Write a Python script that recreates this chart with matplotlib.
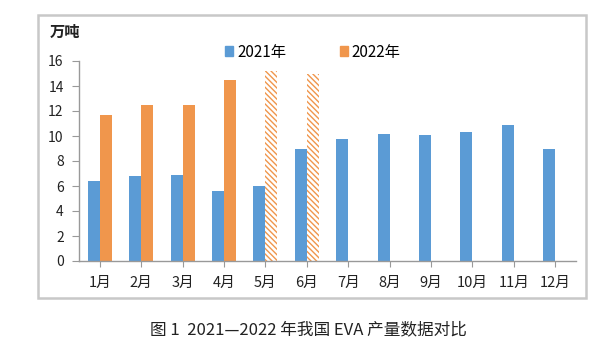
import numpy as np
import matplotlib
matplotlib.use("Agg")
import matplotlib.pyplot as plt
from matplotlib.patches import Rectangle, Patch

plt.rcParams['font.family'] = ['Noto Sans CJK SC', 'DejaVu Sans']
plt.rcParams['hatch.linewidth'] = 1.0

# data
months = ['1月', '2月', '3月', '4月', '5月', '6月', '7月', '8月', '9月', '10月', '11月', '12月']
output_2021 = [6.4, 6.8, 6.9, 5.6, 6.0, 9.0, 9.8, 10.2, 10.1, 10.3, 10.9, 9.0]
output_2022 = [11.7, 12.5, 12.5, 14.5, 15.2, 15.0]
estimated_2022 = [False, False, False, False, True, True]

blue = '#5B9BD5'
orange = '#F0964C'
grey_text = '#222222'

fig = plt.figure(figsize=(6.11, 3.54), dpi=100)
ax = fig.add_axes([79 / 611, 1 - 261 / 354, (576 - 79) / 611, 200 / 354])

x = np.arange(len(months))
w = 0.29
ax.bar(x - w / 2, output_2021, width=w, color=blue, linewidth=0)
for i, v in enumerate(output_2022):
    if estimated_2022[i]:
        ax.bar(i + w / 2, v, width=w, color='white', edgecolor=orange,
               hatch='\\\\\\\\\\\\', linewidth=0)
    else:
        ax.bar(i + w / 2, v, width=w, color=orange, linewidth=0)

ax.set_xlim(-0.5, len(months) - 0.5)
ax.set_ylim(0, 16)
ax.set_yticks(range(0, 17, 2))
ax.set_xticks(x)
ax.set_xticklabels(months)
ax.tick_params(axis='x', length=4, color='#999999', labelsize=10.5, pad=7, labelcolor=grey_text)
ax.tick_params(axis='y', length=5, color='#999999', labelsize=10, pad=6, labelcolor=grey_text)
for s in ['top', 'right']:
    ax.spines[s].set_visible(False)
for s in ['left', 'bottom']:
    ax.spines[s].set_color('#999999')
    ax.spines[s].set_linewidth(1.0)

fig.text(50 / 611, 1 - 32 / 354, '万吨', fontsize=11, fontweight='bold',
         va='center', ha='left', color=grey_text)

handles = [Patch(color=blue, label='2021年'), Patch(color=orange, label='2022年')]
fig.legend(handles=handles, loc='center', bbox_to_anchor=(0.512, 1 - 52 / 354),
           ncol=2, frameon=False, fontsize=11, handlelength=0.55, handleheight=0.55,
           handletextpad=0.25, columnspacing=3.5)

# light grey frame round the chart
fig.patches.append(Rectangle((38 / 611, 1 - 298 / 354), 548 / 611, 283 / 354,
                             transform=fig.transFigure, fill=False,
                             edgecolor='#C8C8C8', linewidth=1.8))

fig.text(0.505, 1 - 330 / 354, '图 1  2021—2022 年我国 EVA 产量数据对比',
         fontsize=12, ha='center', va='center', color=grey_text)

fig.savefig('out.png', dpi=100)
